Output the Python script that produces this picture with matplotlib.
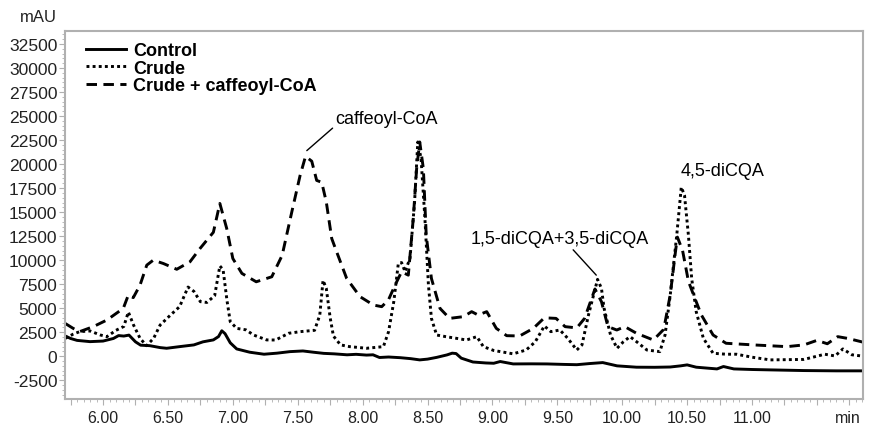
import matplotlib as mpl
import matplotlib.pyplot as plt
import numpy as np
from matplotlib.ticker import MultipleLocator, FuncFormatter

mpl.rcParams['font.family'] = ['Liberation Sans', 'DejaVu Sans']

# retention time (min) and absorbance (mAU)
control_t = [5.71, 5.75, 5.80, 5.90, 6.00, 6.08, 6.12, 6.16, 6.20, 6.25, 6.29, 6.36, 6.44, 6.49,
             6.59, 6.70, 6.77, 6.85, 6.89, 6.915, 6.94, 6.98, 7.03, 7.13, 7.24, 7.34, 7.44, 7.54,
             7.62, 7.70, 7.78, 7.88, 7.95, 8.03, 8.08, 8.13, 8.20, 8.29, 8.37, 8.44, 8.50, 8.57,
             8.65, 8.69, 8.72, 8.76, 8.85, 8.95, 9.01, 9.06, 9.16, 9.30, 9.42, 9.55, 9.65, 9.75,
             9.85, 9.96, 10.11, 10.25, 10.37, 10.45, 10.50, 10.57, 10.73, 10.78, 10.86, 11.00,
             11.14, 11.40, 11.65, 11.86]
control_v = [2100, 1850, 1650, 1520, 1580, 1850, 2150, 2100, 2200, 1500, 1150, 1100, 900, 830,
             1000, 1180, 1500, 1700, 2050, 2650, 2350, 1400, 760, 420, 210, 320, 480, 550,
             420, 300, 250, 150, 200, 120, 150, -130, -80, -150, -250, -380, -300, -120,
             140, 320, 280, -200, -600, -700, -730, -550, -800, -790, -800, -850, -880, -760,
             -660, -1000, -1140, -1150, -1120, -1000, -900, -1140, -1320, -1070, -1320, -1380,
             -1420, -1490, -1520, -1520]

crude_t = [5.71, 5.77, 5.82, 5.90, 5.98, 6.03, 6.10, 6.16, 6.195, 6.235, 6.285, 6.335, 6.39,
           6.44, 6.52, 6.59, 6.655, 6.70, 6.75, 6.80, 6.86, 6.90, 6.925, 6.955, 6.98, 7.03,
           7.10, 7.16, 7.26, 7.33, 7.43, 7.52, 7.63, 7.67, 7.695, 7.72, 7.75, 7.775, 7.83,
           7.90, 8.03, 8.16, 8.20, 8.24, 8.275, 8.30, 8.327, 8.365, 8.40, 8.425, 8.45, 8.48,
           8.507, 8.53, 8.57, 8.64, 8.72, 8.80, 8.88, 8.93, 9.01, 9.16, 9.26, 9.33, 9.40,
           9.45, 9.52, 9.58, 9.65, 9.69, 9.74, 9.81, 9.84, 9.86, 9.91, 9.96, 10.01, 10.06,
           10.11, 10.19, 10.29, 10.33, 10.37, 10.42, 10.455, 10.48, 10.51, 10.535, 10.57,
           10.625, 10.70, 10.80, 10.88, 11.00, 11.14, 11.40, 11.49, 11.56, 11.64, 11.70,
           11.77, 11.86]
crude_v = [1870, 2300, 2560, 2630, 2210, 2040, 2700, 3100, 4600, 3250, 1870, 1100, 1870,
           3250, 4290, 5160, 7200, 6750, 5680, 5600, 6300, 9400, 9000, 5800, 3600, 2900,
           2750, 2210, 1700, 1690, 2390, 2560, 2700, 4290, 7900, 7060, 4000, 2100, 1180,
           1000, 830, 1000, 2560, 5680, 9650, 9750, 8800, 10200, 16000, 22300, 20600, 14300,
           7400, 3940, 2210, 2040, 1870, 1690, 2040, 1000, 600, 250, 650, 1500, 3150,
           2560, 2730, 1870, 650, 1180, 4290, 8000, 7060, 5000, 2210, 830, 1520, 2040,
           1520, 650, 480, 2210, 6370, 12590, 17600, 16740, 12590, 8100, 4640,
           1870, 310, 210, 210, -100, -380, -330, -30, 210, 30, 760,
           150, 0]

coa_t = [5.71, 5.77, 5.82, 5.925, 6.03, 6.156, 6.195, 6.233, 6.285, 6.337, 6.387, 6.465,
         6.568, 6.67, 6.747, 6.85, 6.90, 6.953, 7.00, 7.07, 7.18, 7.30, 7.38, 7.454, 7.518,
         7.56, 7.608, 7.646, 7.685, 7.72, 7.762, 7.80, 7.877, 7.98, 8.083, 8.147, 8.198,
         8.25, 8.30, 8.352, 8.39, 8.416, 8.44, 8.468, 8.49, 8.53, 8.596, 8.67, 8.776, 8.84,
         8.89, 8.956, 9.03, 9.11, 9.21, 9.315, 9.40, 9.49, 9.56, 9.65, 9.71, 9.79, 9.84,
         9.89, 9.958, 10.02, 10.11, 10.24, 10.32, 10.37, 10.41, 10.425, 10.465, 10.51,
         10.56, 10.61, 10.70, 10.80, 11.01, 11.27, 11.40, 11.50, 11.58, 11.66, 11.74, 11.86]
coa_v = [3400, 2900, 2560, 3080, 3770, 4980, 6370, 6100, 7400, 9480, 10000, 9650,
         9050, 9830, 11210, 12900, 15900, 13290, 10170, 8620, 7750, 8270, 10500, 15000, 18800,
         20800, 20300, 18300, 18100, 16060, 12250, 10860, 8100, 6200, 5330, 5160, 5840,
         7400, 8790, 8440, 14320, 19510, 22300, 19510, 12590, 8100, 4980, 3940, 4120, 4640,
         4290, 4640, 2900, 2140, 2110, 2900, 4000, 3940, 3080, 2950, 3940, 7000, 5680,
         3080, 2730, 3080, 2390, 1690, 2800, 6400, 10860, 12400, 11000, 7800,
         6020, 4290, 2210, 1350, 1180, 1000, 1180, 1650, 1300, 2040, 1850, 1450]

labels = ['Control', 'Crude', 'Crude + caffeoyl-CoA']

fig = plt.figure(figsize=(8.71, 4.27), dpi=100)
ax = fig.add_axes([65 / 871, 1 - 400 / 427, 798 / 871, 368 / 427])

l1, = ax.plot(control_t, control_v, color='black', lw=2.1, solid_joinstyle='round')
l2, = ax.plot(crude_t, crude_v, color='black', lw=2.1, linestyle=(0, (1, 1.1)))
l3, = ax.plot(coa_t, coa_v, color='black', lw=2.1, linestyle=(0, (3.6, 2.2)))

ax.set_xlim(5.707, 11.855)
ax.set_ylim(-4450, 33850)

ax.xaxis.set_major_locator(MultipleLocator(0.25))
ax.xaxis.set_minor_locator(MultipleLocator(0.05))
ax.yaxis.set_major_locator(MultipleLocator(2500))
ax.yaxis.set_minor_locator(MultipleLocator(500))


def xfmt(x, pos):
    if x > 11.2:
        return ''
    if abs(x * 2 - round(x * 2)) < 1e-6:
        return '%.2f' % x
    return ''


ax.xaxis.set_major_formatter(FuncFormatter(xfmt))
ax.yaxis.set_major_formatter(FuncFormatter(lambda v, p: '%d' % v if -2500 <= v <= 32500 else ''))

spine_col = '#b0b0b0'
for s in ax.spines.values():
    s.set_color(spine_col)
    s.set_linewidth(1.5)
ax.tick_params(axis='both', which='both', colors=spine_col, labelcolor='#222222')
ax.tick_params(axis='x', which='major', length=4, pad=4, labelsize=11.5)
ax.tick_params(axis='x', which='minor', length=2.5)
ax.tick_params(axis='y', which='major', length=4, pad=1.5, labelsize=12.6)
ax.tick_params(axis='y', which='minor', length=2)

ax.annotate('min', xy=(11.74, 0), xycoords=('data', 'axes fraction'),
            xytext=(0, -8), textcoords='offset points',
            ha='center', va='top', fontsize=11.5, color='#222222')

fig.text(38 / 871, 1 - 17 / 427, 'mAU', ha='center', va='center', fontsize=12, color='#222222')

ax.legend([l1, l2, l3], labels,
          loc='upper left',
          bbox_to_anchor=(0.015, 0.994),
          frameon=False,
          borderpad=0,
          handlelength=2.2,
          handletextpad=0.4,
          labelspacing=0.02,
          prop={'weight': 'bold', 'size': 13})

ax.annotate('caffeoyl-CoA', xy=(7.57, 21400), xytext=(7.79, 24700), fontsize=13,
            ha='left', va='center',
            arrowprops=dict(arrowstyle='-', lw=1, color='black', relpos=(0, 0.1), shrinkA=0, shrinkB=0))
ax.annotate('1,5-diCQA+3,5-diCQA', xy=(9.80, 8440), xytext=(9.52, 12250), fontsize=13,
            ha='center', va='center',
            arrowprops=dict(arrowstyle='-', lw=1, color='black', relpos=(0.56, 0), shrinkA=0, shrinkB=0))
ax.text(10.77, 19310, '4,5-diCQA', fontsize=13, ha='center', va='center')

fig.savefig('out.png', dpi=100)
